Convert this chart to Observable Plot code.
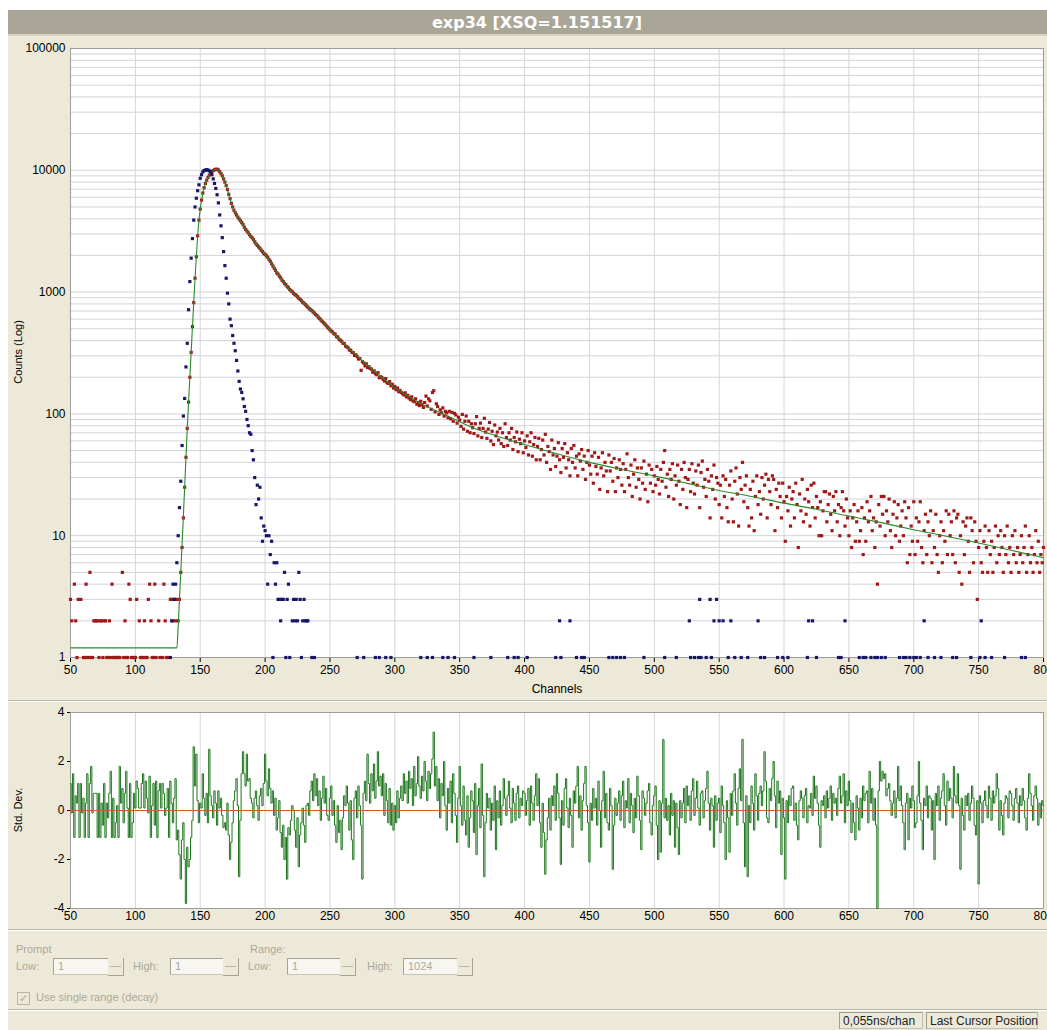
<!DOCTYPE html>
<html>
<head>
<meta charset="utf-8">
<script src="https://cdn.jsdelivr.net/npm/d3@7"></script>
<script src="https://cdn.jsdelivr.net/npm/@observablehq/plot@0.6"></script>
<style>
  html, body { margin: 0; padding: 0; }
  body { width: 1047px; height: 1030px; overflow: hidden; background: #ffffff; position: relative;
         font-family: "Liberation Sans", Arial, sans-serif; }
  .abs { position: absolute; }
  #win { left: 8px; top: 10px; width: 1039px; height: 1020px; background: #ece9d8; }
  #titlebar { left: 8px; top: 10px; width: 1039px; height: 24px; background: #a9a697; border-bottom: 2px solid #d6d3c4; }
  #title { left: 537px; top: 10px; transform: translateX(-50%); line-height: 25px; color: #ffffff;
           font-family: "DejaVu Sans", sans-serif; font-weight: bold; font-size: 16px; white-space: nowrap; }
  .vlabel { transform: translate(-50%, -50%) rotate(-90deg); white-space: nowrap; font-size: 11px; color: #000; }
  .sep { left: 8px; width: 1039px; height: 1px; background: #bcb8a6; border-bottom: 1px solid #ffffff; }
  .ui { font-size: 11px; color: #aca899; white-space: nowrap; }
  .inp { height: 15px; background: #f7f6f1; border: 1px solid #c9c6b6; border-top-color: #a6a392; border-left-color: #a6a392;
         font-size: 11px; color: #aca899; line-height: 15px; padding-left: 4px; box-sizing: content-box; }
  .spin { width: 15px; height: 17px; background: #ece9d8; border-right: 1px solid #a6a392; border-bottom: 1px solid #a6a392; }
  .spin div { position: absolute; left: 2px; width: 11px; height: 1px; background: #b8b5a5; }
  .chk { left: 17px; top: 992px; width: 11px; height: 11px; border: 1px solid #b9b6a6; background: #ece9d8;
         font-size: 11px; line-height: 11px; color: #aca899; text-align: center; }
  .status { top: 1012px; height: 17px; border: 1px solid #c2bfae; border-top-color: #a19e8e; border-left-color: #a19e8e;
            font-size: 12px; line-height: 17px; color: #222; padding-left: 3px; box-sizing: border-box; white-space: nowrap; }
  svg { overflow: visible; }
</style>
</head>
<body>
<div id="win" class="abs"></div>
<div id="titlebar" class="abs"></div>
<div id="title" class="abs">exp34 [XSQ=1.151517]</div>
<div id="topChart" class="abs" style="left:0;top:36px;"></div>
<div class="abs sep" style="top:700px;"></div>
<div id="resChart" class="abs" style="left:0;top:700px;"></div>
<div class="abs vlabel" style="left:18px;top:352px;">Counts (Log)</div>
<div class="abs vlabel" style="left:18px;top:810px;">Std. Dev.</div>
<div class="abs" style="left:557px;top:689px;transform:translate(-50%,-50%);font-size:12px;color:#000;">Channels</div>

<div class="abs sep" style="top:929px;"></div>
<div class="abs ui" style="left:16px;top:943px;">Prompt</div>
<div class="abs ui" style="left:250px;top:943px;">Range:</div>
<div class="abs ui" style="left:16px;top:960px;">Low:</div>
<div class="abs inp" style="left:53px;top:958px;width:50px;">1</div>
<div class="abs spin" style="left:108px;top:958px;"><div style="top:8px;"></div></div>
<div class="abs ui" style="left:133px;top:960px;">High:</div>
<div class="abs inp" style="left:170px;top:958px;width:48px;">1</div>
<div class="abs spin" style="left:223px;top:958px;"><div style="top:8px;"></div></div>
<div class="abs ui" style="left:248px;top:960px;">Low:</div>
<div class="abs inp" style="left:287px;top:958px;width:48px;">1</div>
<div class="abs spin" style="left:340px;top:958px;"><div style="top:8px;"></div></div>
<div class="abs ui" style="left:367px;top:960px;">High:</div>
<div class="abs inp" style="left:403px;top:958px;width:49px;">1024</div>
<div class="abs spin" style="left:457px;top:958px;"><div style="top:8px;"></div></div>
<div class="abs chk">&#10003;</div>
<div class="abs ui" style="left:36px;top:991px;">Use single range (decay)</div>
<div class="abs sep" style="top:1009px;"></div>
<div class="abs status" style="left:839px;width:84px;">0,055ns/chan</div>
<div class="abs status" style="left:926px;width:112px;">Last Cursor Position</div>

<script>
// ---------- DATA ----------
const firstChannel = 50;

// Decay counts (red points), one per channel from 50 to 800
const decayCounts = [
  3,2,0,4,2,1,3,0,3,0,
  1,1,4,1,1,5,1,1,2,2,
  2,2,1,2,2,1,2,2,1,1,
  2,1,4,1,1,1,1,1,1,0,
  5,1,2,1,1,4,3,1,1,1,
  1,3,0,2,1,1,1,2,1,1,
  3,4,2,1,1,4,1,0,2,1,
  0,1,4,2,1,1,0,3,3,2,
  3,2,3,2,3,5,8,14,25,44,
  76,125,200,320,520,820,1300,1950,2900,3900,
  4800,5700,6500,7200,7800,8300,8750,9150,9500,9750,
  9950,10100,10200,10200,10050,9750,9400,9000,8500,8000,
  7500,6950,6350,5850,5350,5000,4700,4480,4300,4120,
  3980,3850,3720,3580,3410,3270,3170,3070,2960,2860,
  2790,2700,2590,2490,2420,2350,2290,2210,2150,2080,
  2040,1985,1930,1850,1790,1710,1640,1570,1510,1440,
  1405,1350,1310,1255,1220,1175,1150,1110,1085,1050,
  1025,1005,975,955,940,915,890,870,850,825,
  810,790,770,752,731,716,705,686,672,655,
  641,622,607,590,575,561,548,532,517,503,
  490,478,470,455,452,430,428,410,402,395,
  380,378,360,356,349,335,333,320,318,302,
  306,295,282,285,228,268,262,248,258,240,
  244,236,233,220,226,214,210,218,198,202,
  199,192,186,195,180,178,184,170,175,163,
  168,158,163,152,156,150,147,143,149,138,
  142,135,131,138,128,126,133,120,124,117,
  127,119,113,124,140,116,133,128,109,150,
  155,104,121,115,99,108,102,112,96,105,
  102,93,105,91,103,87,101,98,84,94,
  89,79,99,75,87,96,72,87,70,83,
  77,69,83,95,66,76,84,64,76,92,
  71,63,75,85,60,72,56,81,66,71,
  61,76,57,70,54,83,64,55,70,61,
  76,51,64,59,71,49,62,57,70,48,
  60,53,66,46,59,70,45,56,64,42,
  54,63,42,51,61,46,68,40,54,49,
  35,61,46,52,37,45,58,42,33,52,
  44,57,36,48,42,31,52,40,55,36,
  45,31,47,41,51,35,45,29,40,50,
  38,32,45,27,48,37,32,44,24,36,
  48,31,40,34,23,46,34,40,28,43,
  23,36,30,42,35,26,39,23,35,47,
  30,26,38,21,32,42,25,36,29,20,
  36,27,41,24,32,19,38,27,35,23,
  31,26,37,29,22,35,28,40,50,25,
  32,21,35,29,39,20,31,26,38,28,
  18,35,24,40,30,17,29,35,23,39,
  27,22,34,26,38,17,33,41,25,29,
  21,35,28,14,31,24,38,20,30,27,
  18,26,14,31,21,29,17,13,26,34,
  20,13,28,36,22,12,30,24,40,19,
  26,31,17,12,24,14,28,11,21,31,
  18,23,15,30,20,26,32,14,29,23,
  18,31,29,11,24,17,27,21,14,27,
  19,9,21,16,25,12,20,23,14,27,
  18,8,22,16,29,13,20,15,24,19,
  12,26,17,27,14,21,17,10,19,10,
  16,23,23,13,18,22,15,11,21,16,
  23,13,18,10,17,23,16,12,20,14,
  10,16,8,14,18,9,13,16,9,11,
  17,7,14,9,19,13,16,21,11,14,
  8,13,4,18,12,21,15,21,10,16,
  13,20,11,8,15,19,10,14,18,9,
  12,16,10,19,14,6,17,7,12,9,
  19,7,14,9,13,19,8,6,11,15,
  7,13,10,16,6,11,8,15,7,5,
  10,13,6,11,9,16,7,15,10,13,
  7,16,6,14,15,5,10,4,13,7,
  12,14,9,5,14,11,6,13,9,3,
  8,11,6,5,9,12,8,5,11,7,
  9,5,8,12,6,10,7,11,8,5,
  10,7,12,6,8,5,10,7,11,6,
  8,5,7,10,6,8,12,5,7,10,
  6,8,5,7,11,6,9,5,7,6,
  8
];

// Prompt / instrument response counts (blue points), channels 127..238
const promptFirstChannel = 127;
const promptCounts = [
  1,2,4,3,4,6,10,17,28,55,
  96,134,243,380,717,1220,1900,2750,3900,5000,
  5900,6800,7600,8600,9200,9700,9950,10050,10100,10050,
  9900,9750,9200,8500,7800,7100,6300,5400,4300,3500,
  2800,2150,1650,1300,980,800,600,530,440,380,
  330,275,225,185,160,150,133,115,105,90,
  80,70,68,50,42,30,18,26,20,25,
  14,9,12,11,10,4,10,7,9,1,
  6,4,6,3,3,2,3,3,5,1,
  3,4,1,0,2,3,2,3,2,5,
  3,1,2,3,2,2,2,0,0,1,
  0,1
];
// Sparse prompt counts in the tail
const promptTailOnes = [271,276,285,288,293,297,320,325,329,337,341,346,361,374,387,392,395,402,424,428,440,444,446,
  465,468,471,474,477,492,508,517,528,531,534,536,540,544,557,562,567,572,582,585,595,599,603,618,625,642,644,
  658,661,663,667,670,672,675,678,689,692,694,697,700,702,705,711,716,721,730,733,744,751,755,760,770,783,786];
const promptTailTwos = [427,435,527,546,550,553,559,580,619,622,647,708,752];
const promptTailThrees = [535,543,548];

// Fitted decay curve (green line)
const fitChannels = [50,132,133,134,135,136,137,138,139,140,141,142,143,144,145,146,147,148,149,150,
  152,154,156,158,160,162,164,166,168,170,172,174,176,178,180,
  185,190,195,200,205,210,215,220,225,230,235,240,245,250,
  260,270,280,290,300,320,340,360,380,400,
  425,450,475,500,525,550,575,600,625,650,675,700,725,750,775,800];
const fitValues = [1.2,1.2,1.8,3,5,8.5,14.5,25,44,76,125,200,320,520,820,1300,1950,2900,3900,4800,
  6500,7800,8750,9500,9950,10200,10050,9400,8500,7500,6350,5350,4700,4300,3990,
  3270,2790,2350,2040,1710,1405,1175,1025,915,810,716,641,561,490,
  385,305,245,200,165,122,97,77,65,56,
  47,40,35,31,27,23.5,21,18.5,16.5,14.5,12.8,11.2,9.9,8.7,7.6,6.6];

// Weighted residuals (Std. Dev.), one per channel from 50 to 800
const residuals = [
  1.1,-0.1,1.5,-1.1,0.6,0.3,1.1,-1.1,1.1,-0.1,
  0.5,-1.1,0.3,1.5,-1.1,1.1,1.8,-0.1,0.7,0.7,
  0.7,-1.1,0.7,-1.1,0.3,-0.6,1.1,-1.1,0.3,-0.3,
  0.7,1.6,-1.1,0.5,-1.1,-0.5,0.2,-1.1,1.8,0.3,
  0.9,-0.5,0.7,1.6,0.1,-1.1,1.1,-1.1,-0.5,0.7,
  0.1,1.2,0.9,0.1,0.1,1.1,1.5,0.1,1.2,0.5,
  -0.1,1.4,-1.1,0.2,1.1,-0.6,1.2,-1.1,0.8,1.1,
  0.1,1.1,0.7,-0.2,0.1,0.9,-1.1,1.2,0.3,-0.5,
  0.5,1.3,-1.2,-0.8,-1.8,-2.8,-1.2,-0.5,-2.0,-3.8,
  -1.5,-2.3,-2.0,-1.1,-0.4,2.6,1.0,2.3,0.4,-0.5,
  0.3,0.1,1.5,0.5,-0.2,0.7,-0.5,2.5,0.6,0.2,
  -0.3,0.8,0.3,-0.6,0.8,0.1,0.5,-0.2,-0.7,-0.5,
  -0.8,0.3,-1.0,-2.0,-1.3,-0.5,0.4,0.8,1.3,0.2,
  -2.7,-0.4,1.5,2.4,1.5,1.0,2.3,1.2,1.3,0.5,
  0.3,-0.3,0.5,0.8,0.2,-0.4,0.6,0.9,0.2,1.1,
  2.3,1.2,0.6,1.7,0.9,0.3,0.8,-0.2,0.5,-0.8,
  -0.3,0.4,-0.9,-1.5,-0.6,-2.0,-1.1,-2.8,-0.7,-1.0,
  -0.4,0.2,0.0,-0.8,-1.5,-0.3,-2.3,-1.0,-0.5,0.1,
  -0.6,-1.3,0.2,0.3,-0.2,0.8,1.2,0.4,1.5,0.6,
  1.3,0.2,0.8,-0.4,0.5,1.4,0.3,0.9,-0.2,-0.4,
  0.5,1.0,-0.2,0.4,-0.6,-1.3,0.2,-0.9,-0.4,-1.6,
  -0.3,0.6,0.2,1.0,0.3,-0.8,0.4,-1.2,-2.0,0.5,
  0.8,-0.3,1.0,0.2,-0.6,-2.8,0.7,1.2,0.4,2.3,
  1.1,0.3,1.5,0.8,1.9,0.5,1.2,2.4,1.0,1.4,
  0.6,1.5,-0.2,1.1,0.4,-0.5,0.9,-0.6,0.3,-0.8,
  0.2,-0.5,0.8,-0.3,0.5,1.0,0.4,1.5,0.7,1.2,
  0.3,1.6,0.9,1.3,0.2,1.8,0.6,1.1,2.2,1.0,
  0.5,1.4,0.8,2.0,1.2,0.4,1.6,0.9,1.5,2.1,
  3.2,1.0,1.8,0.4,1.3,-0.3,1.1,0.6,2.0,0.2,
  -0.8,0.9,0.3,1.2,-0.5,1.5,0.7,-0.2,-1.3,0.5,
  1.8,0.2,-0.6,1.0,-0.4,-1.0,0.6,-1.5,-0.3,0.8,
  0.4,-0.9,1.1,-1.8,0.2,0.9,-0.7,1.9,-0.2,-2.7,
  -0.5,0.7,0.1,0.5,-0.8,0.3,-0.4,1.0,-1.6,0.4,
  -0.3,0.8,-0.6,0.2,1.3,0.5,-0.2,0.6,1.2,0.1,
  -0.5,0.9,0.3,-0.4,0.7,1.0,-0.3,0.5,0.2,0.8,
  0.7,-0.2,0.4,0.9,-0.6,1.0,0.3,-0.4,0.6,1.5,
  0.2,1.3,-0.5,-1.5,0.3,-0.9,-2.6,-1.2,-0.3,0.5,
  -0.8,0.6,0.2,1.0,-0.4,1.5,0.7,-0.3,-2.2,0.4,
  -0.6,0.9,1.3,0.1,-0.7,0.5,-0.2,-1.5,0.8,0.3,
  1.0,1.8,-0.3,0.6,-0.8,0.4,1.1,1.8,0.2,-0.5,
  -2.1,0.3,-0.4,0.9,0.1,0.5,-0.6,1.2,0.0,-1.5,
  0.4,1.6,-0.3,0.7,-0.5,-0.8,0.9,0.2,-2.4,-0.6,
  0.5,-0.2,0.3,0.8,-0.4,0.6,1.2,-0.7,0.4,0.1,
  1.3,-0.5,0.7,0.2,-0.9,0.5,-0.3,1.4,0.6,-0.4,
  -1.6,0.8,0.5,-0.2,0.3,0.8,1.1,-0.5,-1.0,0.2,
  0.6,1.0,-0.6,-2.0,0.4,-1.7,0.3,2.9,-0.3,0.5,
  -0.4,0.2,-1.0,0.7,-0.2,0.4,-1.5,0.3,-0.7,-1.8,
  0.4,-0.3,0.3,0.9,-0.5,1.0,0.2,0.6,-0.4,0.8,
  1.3,-0.2,0.5,1.2,0.1,-0.6,0.7,0.8,-0.3,0.4,
  0.9,1.6,0.3,-0.8,0.5,0.2,-1.5,0.6,-0.4,0.3,
  0.5,-0.9,1.0,0.2,-0.5,-2.0,0.4,-0.3,-1.7,0.7,
  -0.2,0.8,1.5,0.3,-0.6,0.9,1.7,0.4,2.9,-0.5,
  -2.3,0.6,-2.7,0.2,-0.5,1.0,0.3,-0.8,1.5,0.6,
  -0.4,0.7,1.0,0.2,0.8,2.4,1.2,-0.3,-0.5,0.9,
  0.4,1.3,2.0,0.6,-0.7,1.2,0.3,0.8,-1.8,0.5,
  -0.3,-2.8,0.4,-0.5,0.6,0.2,0.9,1.0,-0.4,0.3,
  -0.6,-1.2,0.4,0.8,0.5,-0.3,0.6,0.9,-0.5,0.2,
  0.1,0.7,-0.2,1.4,0.5,1.0,0.3,-0.6,-1.5,0.4,
  0.2,0.6,-0.3,0.8,0.1,0.5,1.0,-0.4,0.7,0.3,
  0.5,-0.2,0.9,1.4,0.3,0.6,1.5,-0.5,0.8,0.2,
  1.2,0.4,-0.9,0.3,-0.5,-1.2,0.6,0.1,-0.8,0.5,
  -0.3,1.0,0.4,0.7,0.8,-0.5,1.6,0.3,0.9,-0.4,
  0.5,-0.6,-4.0,0.8,2.0,1.2,1.6,1.3,1.5,0.6,
  0.9,1.1,0.4,-0.2,0.3,0.8,-0.3,0.5,1.8,0.4,
  1.0,0.2,-0.5,-1.6,0.3,0.7,-1.2,0.5,0.1,1.0,
  0.4,-0.7,-0.5,0.6,2.0,0.3,-0.4,-1.6,0.5,0.2,
  1.0,-0.3,0.6,0.5,-0.8,0.4,-2.0,0.7,0.2,1.0,
  -0.4,0.5,0.8,1.5,0.2,-0.6,1.2,0.4,0.9,0.5,
  -0.3,1.8,0.6,0.3,1.5,0.2,-2.4,0.5,-0.2,-0.8,
  0.6,0.2,0.7,-0.4,0.3,1.0,0.5,-0.6,-1.0,0.4,
  -3.0,0.6,0.3,-0.5,0.4,0.8,0.2,-0.3,1.0,0.5,
  -0.4,0.8,0.3,0.6,1.5,0.9,-0.8,0.4,-0.2,-1.0,
  0.3,0.6,0.5,-0.3,0.8,0.7,0.2,-0.4,0.5,0.9,
  0.3,-0.5,0.6,0.2,0.9,0.4,-0.3,-0.8,0.5,1.5,
  0.7,0.2,-0.4,0.6,1.0,0.5,-0.6,0.3,-0.3,0.4,
  0.2
];

// Axis ticks and labels
const xTicks = [50,100,150,200,250,300,350,400,450,500,550,600,650,700,750,800];
const xTickLabels = ["50","100","150","200","250","300","350","400","450","500","550","600","650","700","750","800"];
const yTicks = [1,10,100,1000,10000,100000];
const yTickLabels = ["1","10","100","1000","10000","100000"];
const resTicks = [-4,-2,0,2,4];
const resTickLabels = ["-4","-2","0","2","4"];

// ---------- BUILD ----------
const decay = decayCounts.map((c, i) => ({ch: firstChannel + i, c})).filter(d => d.c > 0);
const prompt = promptCounts.map((c, i) => ({ch: promptFirstChannel + i, c})).filter(d => d.c > 0)
  .concat(promptTailOnes.map(ch => ({ch, c: 1})))
  .concat(promptTailTwos.map(ch => ({ch, c: 2})))
  .concat(promptTailThrees.map(ch => ({ch, c: 3})));
const fit = fitChannels.map((ch, i) => ({ch, v: fitValues[i]}));
const resid = residuals.map((r, i) => ({ch: firstChannel + i, r}));

// log grid lines (1..9 per decade)
const logGrid = [];
for (let e = 0; e < 5; e++) for (let m = 1; m < 10; m++) logGrid.push(m * Math.pow(10, e));
logGrid.push(100000);

const fontFamily = "Liberation Sans, Arial, sans-serif";
const xFmt = d => xTickLabels[xTicks.indexOf(d)];

const topPlot = Plot.plot({
  width: 1047, height: 665,
  marginLeft: 70, marginRight: 4, marginTop: 12, marginBottom: 44,
  style: {background: "transparent", fontFamily, fontSize: "12px", color: "#000", overflow: "visible"},
  x: {domain: [50, 800], ticks: xTicks, tickFormat: xFmt, tickSize: 5, tickPadding: 3, label: null},
  y: {type: "log", domain: [1, 100000], ticks: yTicks, tickFormat: d => yTickLabels[yTicks.indexOf(d)],
      tickSize: 0, tickPadding: 5, label: null},
  marks: [
    Plot.frame({fill: "#ffffff", stroke: null}),
    Plot.ruleY(logGrid, {stroke: "#d2d2da", strokeWidth: 1}),
    Plot.ruleX(xTicks, {stroke: "#d6d6d6", strokeWidth: 1}),
    Plot.frame({stroke: "#9c9c9c"}),
    Plot.dot(decay, {x: "ch", y: "c", symbol: "square", r: 1.8, fill: "#a01818", stroke: null}),
    Plot.line(fit, {x: "ch", y: "v", stroke: "#2a8a2a", strokeWidth: 1.1, curve: "monotone-x"}),
    Plot.dot(prompt, {x: "ch", y: "c", symbol: "square", r: 1.8, fill: "#17176a", stroke: null})
  ]
});
document.getElementById("topChart").appendChild(topPlot);

const resPlot = Plot.plot({
  width: 1047, height: 235,
  marginLeft: 70, marginRight: 4, marginTop: 12, marginBottom: 27,
  style: {background: "transparent", fontFamily, fontSize: "12px", color: "#000", overflow: "visible"},
  x: {domain: [50, 800], ticks: xTicks, tickFormat: xFmt, tickSize: 0, tickPadding: 3, label: null},
  y: {domain: [-4, 4], ticks: resTicks, tickFormat: d => resTickLabels[resTicks.indexOf(d)],
      tickSize: 3, tickPadding: 3, label: null},
  marks: [
    Plot.frame({fill: "#ffffff", stroke: null}),
    Plot.ruleX(xTicks, {stroke: "#d6d6d6", strokeWidth: 1}),
    Plot.frame({stroke: "#9c9c9c"}),
    Plot.line(resid, {x: "ch", y: "r", stroke: "#1d741d", strokeWidth: 1, curve: "step"}),
    Plot.ruleY([0], {stroke: "#c8602c", strokeWidth: 1.2})
  ]
});
document.getElementById("resChart").appendChild(resPlot);
</script>
</body>
</html>
